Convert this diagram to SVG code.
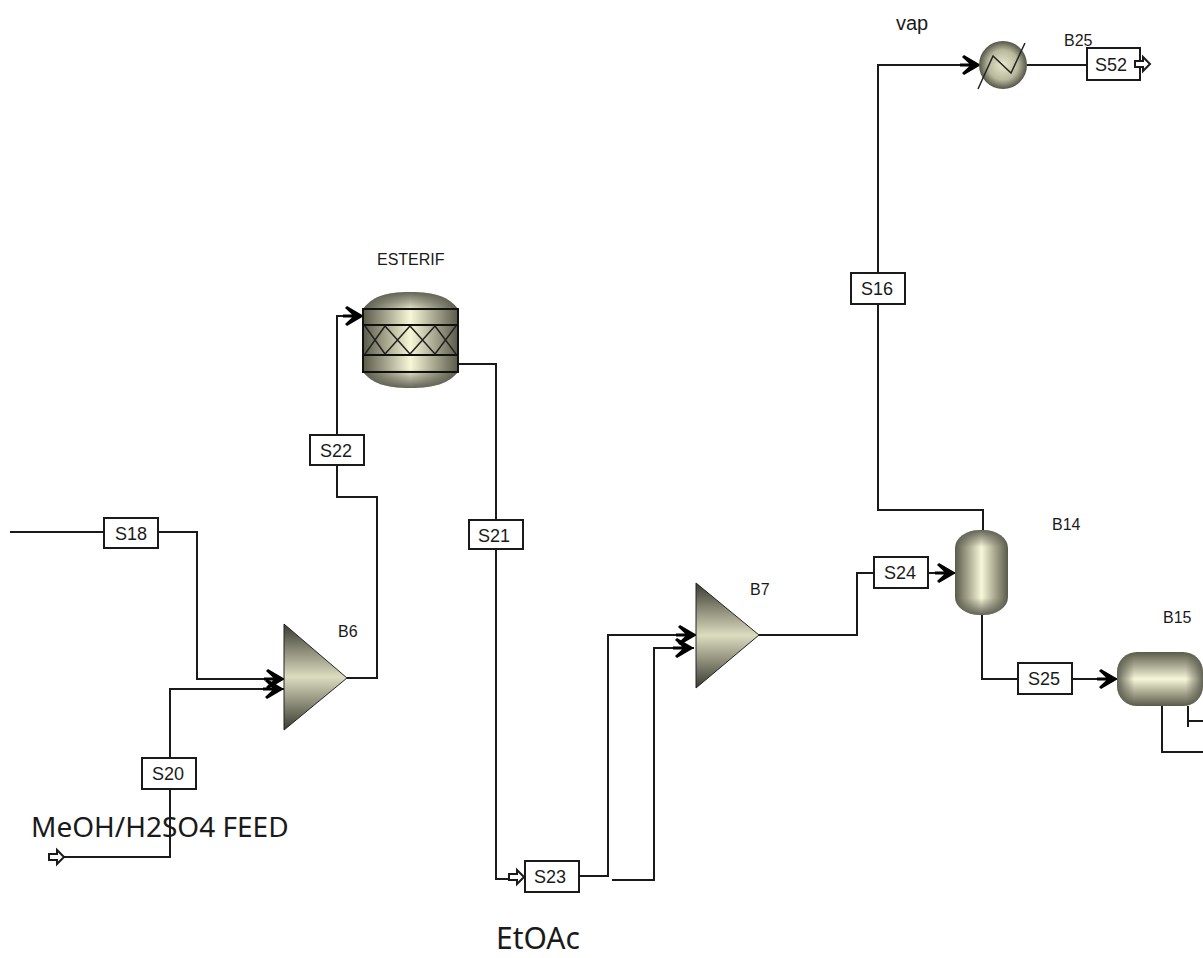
<svg xmlns="http://www.w3.org/2000/svg" width="1203" height="958" viewBox="0 0 1203 958">
<style>
text{font-family:"Liberation Sans",Arial,sans-serif;fill:#1a1a1a}
.b{fill:#fff;stroke:#1a1a1a;stroke-width:2}
.s{font-size:18px;text-anchor:middle}
.l{font-size:16px}
.big{font-family:"Noto Sans","Open Sans",sans-serif;font-size:28px}
.c{fill:none;stroke:#1a1a1a;stroke-width:2}
.a{marker-end:url(#arr)}
.o{fill:#fff;stroke:#1a1a1a;stroke-width:2}
.e{stroke:#111;stroke-width:2;fill:none}
</style>
<defs>
<marker id="arr" markerUnits="userSpaceOnUse" markerWidth="24" markerHeight="24" refX="21" refY="12" orient="auto" viewBox="0 0 24 24">
<path d="M21 12L4 2L2 4L9 10.500L0 10.500V13.500L9 13.500L2 20L4 22Z" fill="#000"/>
</marker>
<linearGradient id="vg" x1="0" y1="0" x2="0" y2="1">
<stop offset="0" stop-color="#3a3a30"/><stop offset=".5" stop-color="#dcdcc0"/><stop offset="1" stop-color="#3a3a30"/>
</linearGradient>
<linearGradient id="vb" x1="0" y1="0" x2="0" y2="1">
<stop offset="0" stop-color="#5a5a4a"/><stop offset=".5" stop-color="#f7f7d8"/><stop offset="1" stop-color="#5a5a4a"/>
</linearGradient>
<linearGradient id="hb" x1="0" y1="0" x2="1" y2="0">
<stop offset="0" stop-color="#5a5a4a"/><stop offset=".5" stop-color="#f7f7d8"/><stop offset="1" stop-color="#5a5a4a"/>
</linearGradient>
<linearGradient id="capv" x1="0" y1="0" x2="0" y2="1">
<stop offset="0" stop-color="#55554a" stop-opacity=".9"/><stop offset=".2" stop-color="#55554a" stop-opacity="0"/><stop offset=".8" stop-color="#55554a" stop-opacity="0"/><stop offset="1" stop-color="#55554a" stop-opacity=".9"/>
</linearGradient>
<linearGradient id="caph" x1="0" y1="0" x2="1" y2="0">
<stop offset="0" stop-color="#55554a" stop-opacity=".9"/><stop offset=".2" stop-color="#55554a" stop-opacity="0"/><stop offset=".8" stop-color="#55554a" stop-opacity="0"/><stop offset="1" stop-color="#55554a" stop-opacity=".9"/>
</linearGradient>
<radialGradient id="rg" cx=".5" cy=".5" r=".52">
<stop offset="0" stop-color="#e8e8cc"/><stop offset=".6" stop-color="#b8b89c"/><stop offset="1" stop-color="#4a4a40"/>
</radialGradient>
<path id="out" d="M0 -3H8V-7L15 0L8 7V3H0Z"/>
</defs>

<g id="connectors">
<path class="c a" d="M10 532H197V679H285"/>
<path class="c a" d="M62 857H170V689H284"/>
<path class="c a" d="M347 678H377V497H337V316H364"/>
<path class="c" d="M458 364H496V879H510"/>
<path class="c a" d="M579 876H608V635H697"/>
<path class="c a" d="M612 880H654V648H694"/>
<path class="c a" d="M759 635H857V573H956"/>
<path class="c a" d="M983 530V510H878V65H981"/>
<path class="c a" d="M982 615V679H1118"/>
<path class="c" d="M1027 65H1087"/>
<path class="c" d="M1162 706V752H1203"/>
<path class="c" d="M1188 706V727M1188 721H1203"/>
</g>

<g id="B6">
<path d="M284 624L347 678L284 730Z" fill="url(#vg)" stroke="#222" stroke-width="1"/>
<text class="l" x="338" y="637">B6</text>
</g>
<g id="B7">
<path d="M696 583L759 635L696 688Z" fill="url(#vg)" stroke="#222" stroke-width="1"/>
<text class="l" x="750" y="595">B7</text>
</g>
<g id="ESTERIF">
<path d="M363 309C372 297 385 292 410 292C435 292 449 297 458 309V372C449 383 435 388 410 388C385 388 372 383 363 372Z" fill="url(#hb)"/>
<path d="M363 309C372 297 385 292 410 292C435 292 449 297 458 309V372C449 383 435 388 410 388C385 388 372 383 363 372Z" fill="url(#capv)"/>
<path class="e" d="M363 309H458V372H363ZM363 325H458M363 355H458"/>
<path d="M365 326L385 354M385 326L410 354M410 326L435 354M435 326L456 354M365 354L385 326M385 354L410 326M410 354L435 326M435 354L456 326" stroke="#222" stroke-width="1.500" fill="none"/>
<text class="l" x="377" y="265">ESTERIF</text>
</g>
<g id="B25">
<circle cx="1003" cy="65" r="24" fill="url(#rg)"/>
<path d="M978 89L993 56L1011 73L1025 43" stroke="#222" stroke-width="1.500" fill="none"/>
<text class="l" x="1064" y="46">B25</text>
</g>
<g id="B14">
<rect x="955" y="530" width="53" height="85" rx="25" ry="18" fill="url(#hb)"/>
<rect x="955" y="530" width="53" height="85" rx="25" ry="18" fill="url(#capv)"/>
<text class="l" x="1052" y="530">B14</text>
</g>
<g id="B15">
<rect x="1117" y="652" width="86" height="54" rx="20" ry="20" fill="url(#vb)"/>
<rect x="1117" y="652" width="86" height="54" rx="20" ry="20" fill="url(#caph)"/>
<text class="l" x="1163" y="623">B15</text>
</g>

<g id="S18"><rect class="b" x="104" y="518" width="54" height="30"/><text class="s" x="131" y="540">S18</text></g>
<g id="S22"><rect class="b" x="310" y="435" width="54" height="30"/><text class="s" x="336" y="457">S22</text></g>
<g id="S21"><rect class="b" x="469" y="520" width="54" height="29"/><text class="s" x="494" y="542">S21</text></g>
<g id="S20"><rect class="b" x="142" y="758" width="54" height="31"/><text class="s" x="168" y="780">S20</text></g>
<g id="S23"><rect class="b" x="525" y="861" width="54" height="31"/><text class="s" x="550" y="883">S23</text></g>
<g id="S24"><rect class="b" x="874" y="557" width="54" height="31"/><text class="s" x="900" y="579">S24</text></g>
<g id="S25"><rect class="b" x="1018" y="663" width="54" height="31"/><text class="s" x="1044" y="685">S25</text></g>
<g id="S16"><rect class="b" x="851" y="273" width="54" height="31"/><text class="s" x="877" y="295">S16</text></g>
<g id="S52"><rect class="b" x="1087" y="48" width="53" height="32"/><text class="s" x="1111" y="71">S52</text></g>

<g id="stream-ends">
<use href="#out" x="49" y="857" class="o"/>
<use href="#out" x="509" y="877" class="o"/>
<use href="#out" x="1135" y="64" class="o"/>
</g>

<text class="l" style="font-size:20px" x="896" y="30">vap</text>
<text class="big" x="31" y="837">MeOH/H2SO4 FEED</text>
<text class="big" style="font-size:30px" x="496" y="949">EtOAc</text>
</svg>
